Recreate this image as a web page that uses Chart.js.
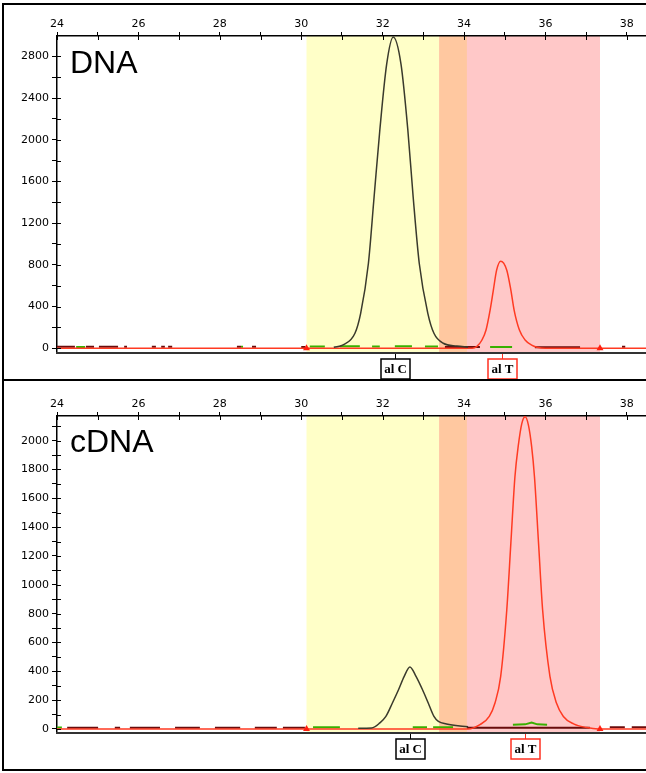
<!DOCTYPE html>
<html><head><meta charset="utf-8">
<script src="https://cdn.jsdelivr.net/npm/chart.js@4/dist/chart.umd.min.js"></script>
<style>
html,body{margin:0;padding:0;background:#fff;}
#wrap{position:relative;width:646px;height:773px;overflow:hidden;background:#fff;}
canvas{position:absolute;left:0;}
#c1{top:0}
#c2{top:381px}
.frame{position:absolute;background:#000;}
</style></head><body>
<div id="wrap">
<canvas id="c1" width="646" height="381"></canvas>
<canvas id="c2" width="646" height="392"></canvas>
<div class="frame" style="left:2px;top:3px;width:644px;height:2px"></div>
<div class="frame" style="left:2px;top:3px;width:2px;height:768px"></div>
<div class="frame" style="left:2px;top:379px;width:644px;height:2px"></div>
<div class="frame" style="left:2px;top:769px;width:644px;height:2px"></div>
</div>
<script>
// ---------- shared axis data ----------
const xTicks = [24,25,26,27,28,29,30,31,32,33,34,35,36,37,38];
const xLabels = [24,26,28,30,32,34,36,38];
const binC = [30.13, 34.07];
const binT = [33.39, 37.34];
const binMarkers = [30.13, 37.34];
const alleleNames = ['al C', 'al T'];

// ---------- DNA panel ----------
const dnaTitle = 'DNA';
const dnaYTicks = [0,200,400,600,800,1000,1200,1400,1600,1800,2000,2200,2400,2600,2800];
const dnaYLabels = [0,400,800,1200,1600,2000,2400,2800];
const dnaAllelePos = [32.30, 34.93];
const dnaBlackX = [30.8, 31.03, 31.32, 31.46, 31.65, 31.79, 31.93, 32.10, 32.26, 32.45, 32.62, 32.75, 32.90, 33.11, 33.26, 33.49, 33.82, 34.1];
const dnaBlackY = [10, 32, 144, 335, 813, 1451, 2089, 2727, 2985, 2727, 2089, 1451, 813, 335, 144, 48, 22, 12];
const dnaRedX = [24, 34.2, 34.31, 34.44, 34.54, 34.64, 34.72, 34.80, 34.90, 35.05, 35.15, 35.23, 35.36, 35.50, 35.66, 35.79, 36.0, 38.47];
const dnaRedY = [0, 0, 15, 79, 175, 366, 558, 749, 835, 749, 558, 366, 175, 79, 30, 10, 0, 0];
const dnaDarkX = [24.0,24.44,24.45, 24.71,24.91,24.95, 25.03,25.50,25.55, 25.65,25.72,25.8, 26.33,26.43,26.5, 26.56,26.65,26.7, 26.73,26.83,26.9, 28.42,28.52,28.6, 28.79,28.89,28.95, 30.0,30.1,30.15, 33.53,34.39,34.4, 35.74,36.85,36.9, 37.88,37.96];
const dnaDarkY = [14,14,null, 14,14,null, 14,14,null, 14,14,null, 14,14,null, 14,14,null, 14,14,null, 14,14,null, 14,14,null, 12,12,null, 12,12,null, 10,10,null, 14,14];
const dnaGreenX = [24.47,24.69,24.7, 28.52,28.57,28.6, 30.21,30.58,30.6, 30.95,31.44,31.5, 31.74,31.93,32.0, 32.30,32.72,32.8, 33.04,33.36,33.4, 34.64,35.18];
const dnaGreenY = [12,12,null, 14,14,null, 16,16,null, 18,18,null, 16,16,null, 18,18,null, 16,16,null, 12,12];

// ---------- cDNA panel ----------
const cdnaTitle = 'cDNA';
const cdnaYTicks = [0,100,200,300,400,500,600,700,800,900,1000,1100,1200,1300,1400,1500,1600,1700,1800,1900,2000,2100];
const cdnaYLabels = [0,200,400,600,800,1000,1200,1400,1600,1800,2000];
const cdnaAllelePos = [32.68, 35.50];
const cdnaBlackX = [31.4, 31.73, 31.93, 32.08, 32.24, 32.39, 32.53, 32.67, 32.82, 32.98, 33.12, 33.26, 33.37, 33.57, 33.90, 34.1];
const cdnaBlackY = [5, 7, 42, 87, 180, 272, 365, 430, 365, 272, 180, 87, 52, 35, 20, 15];
const cdnaRedX = [24, 34.1, 34.39, 34.62, 34.76, 34.90, 35.05, 35.15, 35.25, 35.33, 35.42, 35.50, 35.58, 35.66, 35.73, 35.83, 35.93, 36.11, 36.27, 36.44, 36.69, 37.01, 37.3, 38.47];
const cdnaRedY = [0, 0, 30, 87, 180, 365, 827, 1289, 1750, 1960, 2120, 2166, 2110, 1960, 1750, 1289, 827, 365, 180, 87, 35, 10, 0, 0];
const cdnaDarkX = [24.25,25.01,25.1, 25.42,25.55,25.6, 25.79,26.53,26.6, 26.90,27.51,27.6, 27.88,28.50,28.6, 28.86,29.40,29.45, 29.55,30.09,30.15, 34.07,37.09,37.2, 37.58,37.95,38.0, 38.12,38.47];
const cdnaDarkY = [8,8,null, 8,8,null, 8,8,null, 8,8,null, 8,8,null, 8,8,null, 8,8,null, 8,8,null, 12,12,null, 12,12];
const cdnaGreenX = [24.0,24.12,24.2, 30.29,30.95,31.0, 32.74,33.09,33.1, 33.24,33.73,33.8, 35.2,35.5,35.66,35.8,36.04];
const cdnaGreenY = [10,10,null, 12,12,null, 12,12,null, 12,12,null, 30,32,45,32,30];

const pts = (xs, ys) => xs.map((x, i) => ({x: x, y: ys[i]}));

const decor = {
  id: 'decor',
  beforeDraw(chart, args, o) {
    const {ctx, chartArea: a, scales: {x}} = chart;
    const px = v => x.getPixelForValue(v);
    const h = a.bottom - a.top;
    const c0 = px(o.binC[0]), c1 = px(o.binC[1]), t0 = px(o.binT[0]), t1 = px(o.binT[1]);
    ctx.save();
    ctx.fillStyle = '#ffffc8'; ctx.fillRect(c0, a.top, c1 - c0, h);
    ctx.fillStyle = '#ffc8c8'; ctx.fillRect(t0, a.top, t1 - t0, h);
    ctx.fillStyle = '#ffc8a0'; ctx.fillRect(t0, a.top, c1 - t0, h);
    ctx.restore();
  },
  afterDraw(chart, args, o) {
    const {ctx, chartArea: a, scales: {x, y}} = chart;
    ctx.save();
    ctx.strokeStyle = '#000'; ctx.lineWidth = 1;
    x.ticks.forEach(t => {
      const p = Math.round(x.getPixelForValue(t.value)) + 0.5;
      ctx.beginPath(); ctx.moveTo(p, a.top); ctx.lineTo(p, a.top + 4); ctx.stroke();
    });
    y.ticks.forEach(t => {
      const p = Math.round(y.getPixelForValue(t.value)) + 0.5;
      ctx.beginPath(); ctx.moveTo(a.left, p); ctx.lineTo(a.left + 4, p); ctx.stroke();
    });
    // bottom frame line of plot
    ctx.strokeStyle = '#333'; ctx.lineWidth = 2;
    ctx.beginPath(); ctx.moveTo(a.left - 1, a.bottom + 1); ctx.lineTo(a.right, a.bottom + 1); ctx.stroke();
    // allele boxes
    ctx.font = 'bold 13px "Liberation Serif"';
    ctx.textAlign = 'center'; ctx.textBaseline = 'middle';
    o.alleles.forEach((pos, i) => {
      const p = Math.round(x.getPixelForValue(pos)) + 0.5;
      const col = i === 0 ? '#000' : '#ff3020';
      ctx.strokeStyle = col; ctx.lineWidth = 1;
      ctx.beginPath(); ctx.moveTo(p, a.bottom + 2); ctx.lineTo(p, a.bottom + 7); ctx.stroke();
      ctx.fillStyle = '#fff';
      ctx.fillRect(p - 14.5, a.bottom + 7, 29, 20);
      ctx.lineWidth = 1.5;
      ctx.strokeRect(p - 14.5, a.bottom + 7, 29, 20);
      ctx.fillStyle = '#000';
      ctx.fillText(o.names[i], p, a.bottom + 17.5);
    });
    // panel title
    ctx.font = '32px "Liberation Sans"';
    ctx.textAlign = 'left'; ctx.textBaseline = 'alphabetic';
    ctx.fillStyle = '#000';
    ctx.fillText(o.title, a.left + 13, a.top + o.titleDy);
    ctx.restore();
  }
};

function makeChart(id, cfg) {
  const lineDs = (data, color, width, order, smooth) => ({
    type: 'line', data, borderColor: color, borderWidth: width, pointRadius: 0,
    fill: false, spanGaps: false, order,
    cubicInterpolationMode: smooth ? 'monotone' : 'default', tension: 0
  });
  return new Chart(document.getElementById(id), {
    type: 'line',
    data: {
      datasets: [
        {type: 'scatter', data: binMarkers.map(v => ({x: v, y: 0})), pointStyle: 'triangle',
         pointRadius: 4, backgroundColor: '#ff2010', borderColor: '#ff2010', borderWidth: 0, order: 0, clip: false},
        lineDs(pts(cfg.blackX, cfg.blackY), '#3a3a2c', 1.5, 1, true),
        lineDs(pts(cfg.redX, cfg.redY), '#ff3a22', 1.5, 2, true),
        lineDs(pts(cfg.greenX, cfg.greenY), '#38b000', 2, 3, false),
        lineDs(pts(cfg.darkX, cfg.darkY), '#6a0c0c', 2, 4, false)
      ]
    },
    options: {
      responsive: false, animation: false, events: [],
      layout: {autoPadding: false, padding: {left: 0, right: 0, top: 0, bottom: cfg.padBottom}},
      plugins: {
        legend: {display: false}, tooltip: {enabled: false},
        decor: {binC, binT, alleles: cfg.alleles, names: alleleNames, title: cfg.title, titleDy: cfg.titleDy}
      },
      scales: {
        x: {
          type: 'linear', position: 'top', min: 24, max: 38.47,
          afterBuildTicks: s => { s.ticks = xTicks.map(v => ({value: v})); },
          afterFit: s => { s.height = cfg.xH; s.paddingLeft = 0; s.paddingRight = 0; },
          ticks: {autoSkip: false, maxRotation: 0, padding: 1, color: '#000',
                  font: {family: 'DejaVu Sans', size: 11},
                  callback: v => xLabels.includes(v) ? String(v) : ''},
          grid: {drawOnChartArea: false, drawTicks: true, tickLength: 4, color: '#000', lineWidth: 1},
          border: {display: true, color: '#000', width: 1.5}
        },
        y: {
          type: 'linear', position: 'left', min: cfg.yMin, max: cfg.yMax,
          afterBuildTicks: s => { s.ticks = cfg.yTicks.map(v => ({value: v})); },
          afterFit: s => { s.width = 57; s.paddingTop = 0; s.paddingBottom = 0; },
          ticks: {autoSkip: false, padding: 3, color: '#000',
                  font: {family: 'DejaVu Sans', size: 11},
                  callback: v => cfg.yLabels.includes(v) ? String(v) : ''},
          grid: {drawOnChartArea: false, drawTicks: true, tickLength: 5, color: '#000', lineWidth: 1},
          border: {display: true, color: '#000', width: 1.5}
        }
      }
    },
    plugins: [decor]
  });
}

makeChart('c1', {
  title: dnaTitle, titleDy: 37, xH: 36, padBottom: 29, yMin: -36, yMax: 2995,
  yTicks: dnaYTicks, yLabels: dnaYLabels, alleles: dnaAllelePos,
  blackX: dnaBlackX, blackY: dnaBlackY, redX: dnaRedX, redY: dnaRedY,
  greenX: dnaGreenX, greenY: dnaGreenY, darkX: dnaDarkX, darkY: dnaDarkY
});
makeChart('c2', {
  title: cdnaTitle, titleDy: 36, xH: 35, padBottom: 41, yMin: -21, yMax: 2171,
  yTicks: cdnaYTicks, yLabels: cdnaYLabels, alleles: cdnaAllelePos,
  blackX: cdnaBlackX, blackY: cdnaBlackY, redX: cdnaRedX, redY: cdnaRedY,
  greenX: cdnaGreenX, greenY: cdnaGreenY, darkX: cdnaDarkX, darkY: cdnaDarkY
});
</script>
</body></html>
